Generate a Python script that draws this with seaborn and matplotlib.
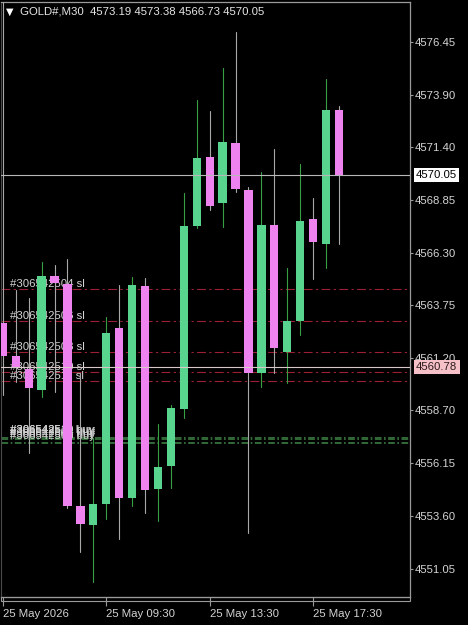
import pandas as pd
import seaborn as sns
import matplotlib.pyplot as plt
import matplotlib.transforms as mtransforms
from matplotlib.patches import Rectangle

# GOLD# M30 bars
opens = [4562.89, 4561.32, 4560.67, 4559.67, 4565.17, 4564.77, 4554.09, 4553.14, 4554.15,
         4562.65, 4554.44, 4564.70, 4554.89, 4556.00, 4558.74, 4567.58, 4570.93, 4568.68,
         4571.58, 4569.32, 4560.50, 4567.63, 4561.52, 4563.00, 4567.91, 4566.70, 4573.19]
highs = [4579.80, 4564.50, 4564.09, 4565.86, 4565.70, 4565.98, 4560.47, 4557.34, 4563.18,
         4564.74, 4565.11, 4565.09, 4558.03, 4558.95, 4569.16, 4573.67, 4573.15, 4575.20,
         4576.96, 4569.48, 4570.20, 4571.30, 4565.54, 4570.58, 4568.92, 4574.66, 4573.38]
lows = [4559.43, 4560.06, 4556.61, 4559.35, 4559.59, 4553.99, 4551.86, 4550.42, 4553.43,
        4552.46, 4554.07, 4553.72, 4553.36, 4554.93, 4558.30, 4567.47, 4568.36, 4567.55,
        4569.21, 4552.75, 4559.80, 4560.47, 4559.99, 4562.32, 4565.01, 4565.54, 4566.73]
closes = [4561.32, 4560.72, 4559.75, 4565.17, 4564.82, 4554.09, 4553.20, 4554.15, 4562.43,
          4554.44, 4564.74, 4554.84, 4555.97, 4558.79, 4567.58, 4570.88, 4568.56, 4571.65,
          4569.36, 4560.47, 4567.63, 4561.71, 4563.01, 4567.83, 4566.83, 4573.20, 4570.05]

# price scale and time scale labels
price_ticks = [4576.45, 4573.90, 4571.40, 4568.85, 4566.30, 4563.75,
               4561.20, 4558.70, 4556.15, 4553.60, 4551.05]
time_tick_bars = [0, 8, 16, 24]
time_tick_labels = ["25 May 2026", "25 May 09:30", "25 May 13:30", "25 May 17:30"]

# order lines
sl_tickets = ["#306542504 sl", "#306542506 sl", "#306542508 sl", "#306542510 sl", "#306542511 sl"]
sl_prices = [4564.56, 4563.00, 4561.52, 4560.55, 4560.12]
buy_tickets = ["#306542511 buy", "#306542510 buy", "#306542504 buy", "#306542506 buy", "#306542508 buy"]
buy_prices = [4557.40, 4557.36, 4557.30, 4557.18, 4557.10]

bid_price = 4570.05
line_price = 4560.78
header = "GOLD#,M30  4573.19 4573.38 4566.73 4570.05"

bull_body = "#58d48f"
bear_body = "#ee82ee"
bull_wick = "#37a045"
bear_wick = "#a8a8a8"
axis_grey = "#9a9a9a"
text_grey = "#d4d4d4"

df = pd.DataFrame({"open": opens, "high": highs, "low": lows, "close": closes})
df["bar"] = range(len(df))
df["side"] = ["bull" if c >= o else "bear" for o, c in zip(df["open"], df["close"])]

# one row per wick end so seaborn draws a vertical segment per bar
wicks = pd.concat([
    df[["bar", "side"]].assign(price=df["low"]),
    df[["bar", "side"]].assign(price=df["high"]),
]).sort_values(["bar", "price"])

sns.set_theme(style="dark", rc={"axes.facecolor": "black", "figure.facecolor": "black",
                                "savefig.facecolor": "black"})
plt.rcParams['font.family'] = ['Liberation Sans', 'DejaVu Sans']

fig = plt.figure(figsize=(4.68, 6.25), dpi=100)
ax = fig.add_axes([0.5 / 468, 28 / 625, 409.5 / 468, 595 / 625])
ax.set_facecolor("black")

# sl / buy lines and their labels sit behind the candles
for p, t in zip(sl_prices, sl_tickets):
    ax.axhline(p, color="#9c2033", lw=0.8, linestyle=(0, (8, 3, 2, 3)), zorder=1)
    ax.text(0.56, p, t, color=text_grey, fontsize=8.2, va="bottom", ha="left", zorder=1.5)
for p, t in zip(buy_prices, buy_tickets):
    ax.axhline(p, color="#3b7a42", lw=0.6, linestyle=(0, (8, 3, 2, 3)), zorder=1)
    ax.text(0.56, p + 0.12, t, color=text_grey, fontsize=8.2, va="bottom", ha="left", zorder=1.5)

sns.lineplot(data=wicks, x="bar", y="price", units="bar", estimator=None, sort=False,
             hue="side", palette={"bull": bull_wick, "bear": bear_wick},
             linewidth=0.8, legend=False, ax=ax, zorder=3)

body_colors = [bull_body if s == "bull" else bear_body for s in df["side"]]
ax.bar(df["bar"], df["close"] - df["open"], bottom=df["open"], width=0.64,
       color=body_colors, linewidth=0, zorder=4)

ax.axhline(bid_price, color="#b8b8b8", lw=0.8, zorder=6)
ax.axhline(line_price, color="#d8c8c8", lw=0.8, zorder=6)

ax.set_xlim(-0.178, 31.49)
ax.set_ylim(4549.68, 4578.395)
ax.set_xlabel("")
ax.set_ylabel("")
ax.grid(False)

for side in ["top", "right", "bottom"]:
    ax.spines[side].set_visible(True)
    ax.spines[side].set_color(axis_grey)
    ax.spines[side].set_linewidth(0.9)
ax.spines["left"].set_color("#4a4a4a")
ax.spines["left"].set_linewidth(0.8)

ax.yaxis.tick_right()
ax.set_yticks(price_ticks)
ax.set_yticklabels([f"{v:.2f}" for v in price_ticks])
ax.tick_params(axis="y", which="both", right=True, left=False, direction="out",
               length=2.2, width=0.8, color=axis_grey, labelcolor=text_grey,
               labelsize=8.2, pad=1.5)

ax.set_xticks(time_tick_bars)
ax.set_xticklabels(time_tick_labels)
ax.tick_params(axis="x", which="both", bottom=True, direction="out", length=6.5, width=0.8,
               color=axis_grey, labelcolor=text_grey, labelsize=8.2, pad=2)
for lbl in ax.get_xticklabels():
    lbl.set_horizontalalignment("left")

# price tags on the right scale
tag_tr = mtransforms.blended_transform_factory(ax.transAxes, ax.transData)
ax.text(1.0147, bid_price, f"{bid_price:.2f}", transform=tag_tr, color="black",
        fontsize=8.2, va="center", ha="left", clip_on=False, zorder=10,
        bbox=dict(boxstyle="square,pad=0.2", fc="white", ec="none"))
ax.text(1.0147, line_price, f"{line_price:.2f}", transform=tag_tr, color="#2a1a1a",
        fontsize=8.2, va="center", ha="left", clip_on=False, zorder=10,
        bbox=dict(boxstyle="square,pad=0.2", fc="#f5c0c8", ec="none"))

# time scale strip under the chart
fig.add_artist(Rectangle((0.5 / 468, 24 / 625), 409.5 / 468, 4 / 625, fill=False,
                         edgecolor=axis_grey, lw=0.8, transform=fig.transFigure))

fig.text(6 / 468, 1 - 12 / 625, "\u25bc", color="white", fontsize=7,
         va="center", ha="left", family=["DejaVu Sans"])
fig.text(20 / 468, 1 - 12 / 625, header, color="#e6e6e6", fontsize=8.2,
         va="center", ha="left")

plt.savefig("out.png", dpi=100, facecolor="black")
plt.close()
